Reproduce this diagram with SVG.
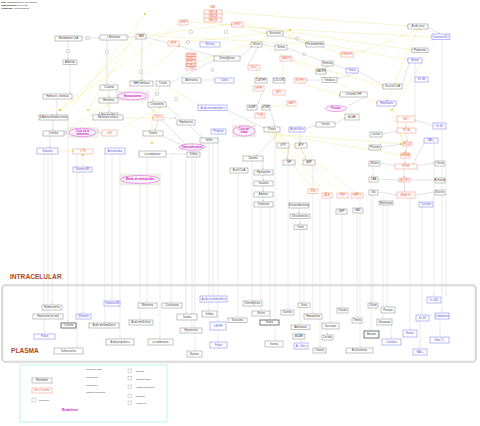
<svg xmlns="http://www.w3.org/2000/svg" width="480" height="426" viewBox="0 0 480 426">
<style>
text{font-family:"Liberation Sans",Arial,sans-serif;font-size:2.6px;text-anchor:middle;fill:#444}
.g{fill:#fff;stroke:#9a9a9a;stroke-width:.6}
.d{fill:#fff;stroke:#555;stroke-width:.8}
.r{fill:#fff;stroke:#f5a090;stroke-width:.6}
.b{fill:#fff;stroke:#9c9cf2;stroke-width:.7}
.rt{fill:#e8604c}
.bt{fill:#5454d0}
.m{fill:#fff2fc;stroke:#e060e0;stroke-width:.6}
.mt{fill:#c020c0;font-weight:bold}
.bg{fill:#efefe6;stroke:#ddd;stroke-width:.3}
.c{fill:none;stroke:#c8c8c8;stroke-width:.5;marker-end:url(#a)}
.v{fill:none;stroke:#d6d6d6;stroke-width:.5;marker-end:url(#a)}
.y{fill:none;stroke:#e8dc60;stroke-width:.5;stroke-dasharray:1.5 1;marker-end:url(#k)}
.s{fill:#fff;stroke:#999;stroke-width:.4}
.h{text-anchor:start;font-size:2.4px;fill:#222}
.big{font-size:6.6px;font-weight:bold;fill:#b04818;text-anchor:start}
.lg{text-anchor:start;font-size:2.4px}
</style>
<defs>
<marker id="a" viewBox="0 0 6 6" refX="6" refY="3" markerWidth="3" markerHeight="3" orient="auto"><path d="M0,0L6,3L0,6z" fill="#b8b8b8"/></marker>
<marker id="k" viewBox="0 0 6 6" refX="3" refY="3" markerWidth="3" markerHeight="3" orient="auto"><rect width="6" height="6" fill="#d8c400"/></marker>
</defs>
<rect width="480" height="426" fill="#fff"/>
<g id="header">
<text class="h" x="1" y="3"><tspan font-weight="bold">Title:</tspan> Metabolismo de un carbono</text>
<text class="h" x="1" y="6"><tspan font-weight="bold">Last modified:</tspan> 07/04/17</text>
<text class="h" x="1" y="9"><tspan font-weight="bold">Organism:</tspan> Homo sapiens</text>
</g>
<g id="plasma-compartment">
<rect x="2" y="285" width="474" height="77" rx="4" fill="none" stroke="#d2d2d2" stroke-width="1.6"/>
<rect x="3.5" y="286.5" width="471" height="74" rx="3" fill="none" stroke="#e6e6e6" stroke-width=".5"/>
<text class="big" x="10" y="279">INTRACELULAR</text>
<text class="big" x="11" y="353">PLASMA</text>
</g>
<g id="connectors">
<path class="v" d="M52,154V304"/><path class="v" d="M48,154V313"/><path class="v" d="M68,120V322"/><path class="v" d="M83,172V313"/>
<path class="v" d="M112,154V300"/><path class="v" d="M105,154V322"/><path class="v" d="M147,157V302"/><path class="v" d="M140,185V319"/>
<path class="v" d="M44,154V333"/><path class="v" d="M120,154V338"/><path class="v" d="M160,185V338"/><path class="v" d="M77,154V347"/>
<path class="v" d="M171,157V302"/><path class="v" d="M213,143V295"/><path class="v" d="M186,157V313"/><path class="v" d="M209,143V310"/>
<path class="v" d="M192,157V327"/><path class="v" d="M218,134V321"/><path class="v" d="M238,173V317"/><path class="v" d="M218,330V341"/>
<path class="v" d="M195,157V350"/><path class="v" d="M252,161V300"/><path class="v" d="M261,207V310"/><path class="v" d="M270,207V319"/>
<path class="v" d="M275,132V340"/><path class="v" d="M288,148V309"/><path class="v" d="M304,229V302"/><path class="v" d="M313,165V313"/>
<path class="v" d="M300,229V324"/><path class="v" d="M299,329V333"/><path class="v" d="M301,339V342"/><path class="v" d="M320,198V347"/>
<path class="v" d="M342,214V307"/><path class="v" d="M357,213V317"/><path class="v" d="M330,198V322"/><path class="v" d="M327,329V334"/>
<path class="v" d="M360,198V347"/><path class="v" d="M373,195V302"/><path class="v" d="M387,205V306"/><path class="v" d="M383,195V318"/>
<path class="v" d="M371,195V330"/><path class="v" d="M391,325V338"/><path class="v" d="M410,198V329"/><path class="v" d="M422,207V314"/>
<path class="v" d="M434,143V296"/><path class="v" d="M442,40V312"/><path class="v" d="M440,319V336"/><path class="v" d="M420,321V348"/>
<path class="v" d="M415,63V115"/><path class="v" d="M446,166V296"/><path class="v" d="M373,166V176"/>
<path class="c" d="M68,41V59.5"/><path class="c" d="M82,38H99.5"/><path class="c" d="M107,39V84.5"/><path class="c" d="M109,90V97.5"/>
<path class="c" d="M109,103V112.5"/><path class="c" d="M57,99V114.5"/><path class="c" d="M53,120V130.5"/><path class="c" d="M50,136V147.5"/>
<path class="c" d="M70,64V93.5"/><path class="c" d="M136,37H127.5"/><path class="c" d="M142,39V80.5"/><path class="c" d="M160,86L152,101.5"/>
<path class="c" d="M146,37L214,56"/><path class="c" d="M170,83L214,60"/><path class="c" d="M201,80H214.5"/><path class="c" d="M240,58L251,47"/>
<path class="c" d="M262,44L275,47"/><path class="c" d="M283,36L306,43"/><path class="c" d="M287,48L322,61"/><path class="c" d="M329,66L322,69"/>
<path class="c" d="M333,64L346,69"/><path class="c" d="M358,71L383,85"/><path class="c" d="M402,86L409,63"/><path class="c" d="M428,27L440,34"/>
<path class="c" d="M150,107L186,145"/><path class="c" d="M166,105L203,138"/><path class="c" d="M227,110L264,128"/><path class="c" d="M305,129L316,125"/>
<path class="c" d="M335,124L345,118"/><path class="c" d="M289,148L287,159.5"/><path class="c" d="M301,148L306,159.5"/><path class="c" d="M263,161V169.5"/>
<path class="c" d="M263,175V180.5"/><path class="c" d="M263,186V191.5"/><path class="c" d="M263,197V201.5"/><path class="c" d="M280,132L256,155.5"/>
<path class="c" d="M300,132V142.5"/><path class="c" d="M382,134L397,131"/><path class="c" d="M381,147L403,144"/><path class="c" d="M380,163L395,166"/>
<path class="c" d="M378,179L399,180"/><path class="c" d="M378,192L397,195"/><path class="c" d="M417,166L435,163"/><path class="c" d="M410,180L435,180"/>
<path class="c" d="M415,195L435,192"/><path class="c" d="M406,122V127.5"/><path class="c" d="M406,133L407,141.5"/><path class="c" d="M407,146L405,152.5"/>
<path class="c" d="M405,158V163.5"/><path class="c" d="M404,169V177.5"/><path class="c" d="M404,182L405,191.5"/><path class="c" d="M424,143L413,164"/>
<path class="c" d="M433,126L415,120"/><path class="c" d="M299,208V213.5"/><path class="c" d="M300,219V224.5"/><path class="c" d="M161,118H176.5"/>
<path class="c" d="M158,120L155,130.5"/><path class="c" d="M163,136L179,144"/><path class="c" d="M166,154L186,154"/><path class="c" d="M64,133H67.5"/>
<path class="c" d="M97,133H101.5"/><path class="c" d="M120,117H123"/><path class="c" d="M248,65L258,47"/><path class="c" d="M320,80L306,80"/>
<path class="c" d="M337,79L358,73"/><path class="c" d="M365,97L350,105"/><path class="c" d="M264,88L258,104.5"/><path class="c" d="M270,110L275,126.5"/>
<path class="y" d="M136,39L60,110"/><path class="y" d="M178,24L60,110"/><path class="y" d="M135,33L88,110"/><path class="y" d="M146,36L232,24"/>
<path class="y" d="M188,22L232,25"/><path class="y" d="M222,12L408,26"/><path class="y" d="M243,25L412,50"/><path class="y" d="M152,36L306,44"/>
<path class="y" d="M179,43L267,33"/><path class="y" d="M240,27L432,37"/><path class="y" d="M283,33L341,54"/><path class="y" d="M262,45L377,103"/>
<path class="y" d="M250,30L408,60"/><path class="y" d="M292,60L383,86"/><path class="y" d="M353,55L420,29"/><path class="y" d="M417,30L387,101"/>
<path class="y" d="M435,42L392,110"/><path class="y" d="M167,86L203,108"/><path class="y" d="M58,151H73"/><path class="y" d="M83,167V155"/>
<path class="y" d="M120,118H153"/><path class="y" d="M152,120V143"/><path class="y" d="M268,132L312,189"/><path class="y" d="M270,132L326,193"/>
<path class="y" d="M272,132L342,193"/><path class="y" d="M274,132L357,193"/><path class="y" d="M275,134L401,144"/><path class="y" d="M280,135L401,155"/>
<path class="y" d="M388,106L404,142"/><path class="y" d="M393,106L405,153"/><path class="y" d="M283,61V78"/><path class="y" d="M257,70V78"/>
<path class="y" d="M68,130L118,97"/><path class="y" d="M117,131L160,107"/><path class="y" d="M141,47V81"/><path class="y" d="M196,62L290,30"/>
<path class="y" d="M300,83L340,95"/><path class="y" d="M292,104L262,108"/><path class="y" d="M70,110L145,14"/><path class="y" d="M93,118L179,46"/>
</g>
<g id="anchors">
<rect class="s" x="66.8" y="49.8" width="2.6" height="2.6"/><rect class="s" x="105.8" y="50.8" width="2.6" height="2.6"/>
<rect class="s" x="86.5" y="36.8" width="2.6" height="2.6"/><rect class="s" x="186.8" y="40.8" width="2.6" height="2.6"/>
<rect class="s" x="189.8" y="30.8" width="2.6" height="2.6"/><rect class="s" x="224.8" y="30.8" width="2.6" height="2.6"/>
<rect class="s" x="139.8" y="70.8" width="2.6" height="2.6"/><rect class="s" x="155.8" y="92.8" width="2.6" height="2.6"/>
<rect class="s" x="174.8" y="97.8" width="2.6" height="2.6"/><rect class="s" x="211" y="69" width="2.6" height="2.6"/>
<rect class="s" x="303" y="53" width="2.6" height="2.6"/><rect class="s" x="96" y="129.5" width="2.6" height="2.6"/>
<rect class="s" x="64" y="131.5" width="2.6" height="2.6"/><rect class="s" x="296" y="37" width="2.6" height="2.6"/>
</g>
<g id="n1"><rect class="g" x="55" y="36" width="27" height="5"/><text x="68.5" y="39.4">Metilmalonil-CoA</text></g>
<g id="n2"><rect class="g" x="100" y="35" width="27" height="5"/><text x="113.5" y="38.4">L-Metionina</text></g>
<g id="n3"><rect class="g" x="136" y="34" width="10" height="5"/><text x="141" y="37.4">SAM</text></g>
<g id="n4"><text class="rt" x="213" y="8">MAT</text><rect class="r" x="204" y="10" width="18" height="4"/><text class="rt" x="213" y="12.9">MAT1A</text><rect class="r" x="204" y="14" width="18" height="4"/><text class="rt" x="213" y="16.9">MAT2A</text><rect class="r" x="204" y="18" width="18" height="4"/><text class="rt" x="213" y="20.9">MAT2B</text></g>
<g id="n5"><rect class="r" x="179" y="20" width="9" height="5"/><text class="rt" x="183.5" y="23.4">GNMT</text></g>
<g id="n6"><rect class="r" x="232" y="22" width="11" height="5"/><text class="rt" x="237.5" y="25.4">BHMT</text></g>
<g id="n7"><rect class="r" x="168" y="41" width="11" height="5"/><text class="rt" x="173.5" y="44.4">MTR</text></g>
<g id="n8"><rect class="b" x="200" y="42" width="20" height="5"/><text class="bt" x="210" y="45.4">Betaína</text></g>
<g id="n9"><rect class="r" x="186" y="53" width="10" height="3.4"/><text class="rt" x="191" y="55.6">MTHFR</text><rect class="r" x="186" y="56.4" width="10" height="3.4"/><text class="rt" x="191" y="59">SHMT1</text><rect class="r" x="186" y="59.8" width="10" height="3.4"/><text class="rt" x="191" y="62.4">SHMT2</text><rect class="r" x="186" y="63.2" width="10" height="3.4"/><text class="rt" x="191" y="65.8">MTHFD1</text><rect class="r" x="186" y="66.6" width="10" height="3.4"/><text class="rt" x="191" y="69.2">TYMS</text></g>
<g id="n10"><rect class="g" x="214" y="56" width="26" height="5"/><text x="227" y="59.4">Dimetilglicina</text></g>
<g id="n11"><rect class="g" x="130" y="81" width="23" height="5"/><text x="141.5" y="84.4">SAH hidrolasa</text></g>
<g id="n12"><rect class="g" x="156" y="81" width="14" height="5"/><text x="163" y="84.4">Cistina</text></g>
<g id="n13"><rect class="g" x="182" y="78" width="19" height="5"/><text x="191.5" y="81.4">Adenosina</text></g>
<g id="n14"><rect class="b" x="215" y="78" width="19" height="5"/><text class="bt" x="224.5" y="81.4">Colina</text></g>
<g id="n15"><rect class="bg" x="116" y="91.5" width="33" height="9"/><ellipse class="m" cx="132.5" cy="96" rx="15" ry="3.8"/><text class="mt" x="132.5" y="96.9">Homocisteína</text></g>
<g id="n16"><rect class="g" x="148" y="102" width="18" height="5"/><text x="157" y="105.4">Cistationina</text></g>
<g id="n17"><rect class="b" x="198" y="105" width="29" height="5.5"/><text class="bt" x="212.5" y="108.6">Ácido tetrahidrofólico</text></g>
<g id="n18"><rect class="g" x="267" y="31" width="16" height="5"/><text x="275" y="34.4">Sarcosina</text></g>
<g id="n19"><rect class="g" x="251" y="42" width="11" height="5"/><text x="256.5" y="45.4">Glicina</text></g>
<g id="n20"><rect class="g" x="275" y="45" width="12" height="5"/><text x="281" y="48.4">Serina</text></g>
<g id="n21"><rect class="g" x="306" y="42" width="18" height="5"/><text x="315" y="45.4">Formaldehído</text></g>
<g id="n22"><rect class="r" x="280" y="56" width="12" height="5"/><text class="rt" x="286" y="59.4">SARDH</text></g>
<g id="n23"><rect class="r" x="341" y="52" width="12" height="5"/><text class="rt" x="347" y="55.4">DMGDH</text></g>
<g id="n24"><rect class="g" x="322" y="61" width="11" height="5"/><text x="327.5" y="64.4">Formato</text></g>
<g id="n25"><rect class="g" x="316" y="69" width="10" height="5"/><text x="321" y="72.4">NADPH</text></g>
<g id="n26"><rect class="b" x="346" y="68" width="12" height="5"/><text class="bt" x="352" y="71.4">Folato</text></g>
<g id="n27"><rect class="r" x="248" y="65" width="12" height="5"/><text class="rt" x="254" y="68.4">GLDC</text></g>
<g id="n28"><rect class="g" x="255" y="78" width="12" height="5"/><text x="261" y="81.4">5-MTHF</text></g>
<g id="n29"><rect class="g" x="273" y="78" width="12" height="5"/><text x="279" y="81.4">5,10-CH2</text></g>
<g id="n30"><rect class="r" x="294" y="78" width="12" height="5"/><text class="rt" x="300" y="81.4">MTHFS</text></g>
<g id="n31"><rect class="g" x="322" y="77.5" width="15" height="5"/><text x="329.5" y="80.9">Timidilato</text></g>
<g id="n32"><rect class="r" x="253" y="86" width="11" height="5"/><text class="rt" x="258.5" y="89.4">DHFR</text></g>
<g id="n33"><rect class="r" x="273" y="90" width="12" height="5"/><text class="rt" x="279" y="93.4">ATIC</text></g>
<g id="n34"><rect class="r" x="287" y="101" width="9" height="5"/><text class="rt" x="291.5" y="104.4">GART</text></g>
<g id="n35"><rect class="g" x="340" y="92" width="27" height="5"/><text x="353.5" y="95.4">10-formil-THF</text></g>
<g id="n36a"><rect class="g" x="247" y="105" width="10" height="5"/><text x="252" y="108.4">dUMP</text></g>
<g id="n36b"><rect class="g" x="262" y="105" width="8" height="5"/><text x="266" y="108.4">dTMP</text></g>
<g id="n37"><ellipse class="m" cx="336" cy="108.5" rx="10.5" ry="3"/><text class="mt" x="336" y="109.4">Purinas</text></g>
<g id="n38"><rect class="g" x="408" y="24" width="20" height="5"/><text x="418" y="27.4">Ácido úrico</text></g>
<g id="n39"><rect class="b" x="432" y="34" width="18" height="5.5"/><text class="bt" x="441" y="37.6">Vitamina B12</text></g>
<g id="n40"><rect class="g" x="412" y="48" width="16" height="4.5"/><text x="420" y="51.2">Propionato</text></g>
<g id="n41"><rect class="b" x="408" y="58" width="14" height="5"/><text class="bt" x="415" y="61.4">Biotina</text></g>
<g id="n42"><rect class="b" x="415" y="77" width="13" height="5"/><text class="bt" x="421.5" y="80.4">Vit. B6</text></g>
<g id="n43"><rect class="g" x="383" y="84" width="19" height="5"/><text x="392.5" y="87.4">Succinil-CoA</text></g>
<g id="n44"><rect class="b" x="377" y="101" width="19" height="5"/><text class="bt" x="386.5" y="104.4">Riboflavina</text></g>
<g id="n45"><rect class="g" x="43" y="94" width="29" height="5"/><text x="57.5" y="97.4">Homocist. sintetasa</text></g>
<g id="n46"><rect class="g" x="63" y="60" width="14" height="4.5"/><text x="70" y="63.2">Aldehído</text></g>
<g id="n47"><rect class="g" x="100" y="85" width="18" height="5"/><text x="109" y="88.4">Cistatina</text></g>
<g id="n48"><rect class="g" x="99" y="98" width="19" height="5"/><text x="108.5" y="101.4">Metionina</text></g>
<g id="n49"><rect class="g" x="99" y="113" width="19" height="4.5"/><text x="108.5" y="116.2">Betaína-Hcy</text></g>
<g id="n50"><rect class="g" x="39" y="115" width="29" height="5"/><text x="53.5" y="118.4">S-Adenosilhomocisteína</text></g>
<g id="n51"><rect class="g" x="93" y="115" width="30" height="5"/><text x="108" y="118.4">Metionina sintasa</text></g>
<g id="n52"><rect class="g" x="43" y="131" width="21" height="5"/><text x="53.5" y="134.4">Cisteína</text></g>
<g id="n53"><rect class="bg" x="67.5" y="127.5" width="30" height="10"/><ellipse class="m" cx="82.5" cy="132.5" rx="13.5" ry="4.2"/><text class="mt" x="82.5" y="131.8">Ciclo de la</text><text class="mt" x="82.5" y="134.6">metionina</text></g>
<g id="n54"><rect class="r" x="102" y="130" width="15" height="6"/><text class="rt" x="109.5" y="133.9">CBS</text></g>
<g id="n55"><rect class="b" x="37" y="148" width="21" height="6"/><text class="bt" x="47.5" y="151.9">Glutatión</text></g>
<g id="n56"><rect class="r" x="73" y="149" width="20" height="5"/><text class="rt" x="83" y="152.4">CTH</text></g>
<g id="n57"><rect class="b" x="105" y="148" width="20" height="6"/><text class="bt" x="115" y="151.9">Aminoácidos</text></g>
<g id="n58"><rect class="b" x="73" y="167" width="19" height="5"/><text class="bt" x="82.5" y="170.4">Vitamina B6</text></g>
<g id="n59"><rect class="r" x="153" y="115" width="10" height="5"/><text class="rt" x="158" y="118.4">CDO1</text></g>
<g id="n60"><rect class="g" x="177" y="120" width="18" height="5"/><text x="186" y="123.4">Hipotaurina</text></g>
<g id="n61"><rect class="g" x="143" y="131" width="20" height="5"/><text x="153" y="134.4">Taurina</text></g>
<g id="n62"><rect class="b" x="211" y="129" width="15" height="5"/><text class="bt" x="218.5" y="132.4">Piridoxal</text></g>
<g id="n63"><rect class="bg" x="232.5" y="125" width="23" height="12"/><ellipse class="m" cx="244" cy="131" rx="11" ry="5"/><text class="mt" x="244" y="130.3">Ciclo del</text><text class="mt" x="244" y="133.1">folato</text></g>
<g id="n64"><ellipse class="m" cx="192" cy="147" rx="13" ry="3.2"/><text class="mt" x="192" y="147.9">Transsulfuración</text></g>
<g id="n65"><rect class="g" x="200" y="138" width="18" height="5"/><text x="209" y="141.4">Sulfito</text></g>
<g id="n66"><rect class="g" x="139" y="151" width="27" height="6"/><text x="152.5" y="154.9">α-cetobutirato</text></g>
<g id="n67"><rect class="g" x="187" y="152" width="13" height="5"/><text x="193.5" y="155.4">Sulfato</text></g>
<g id="n68"><rect class="bg" x="119.5" y="174" width="41" height="11"/><ellipse class="m" cx="140" cy="179.5" rx="19.5" ry="4"/><text class="mt" x="140" y="180.4">Metab. de aminoácidos</text></g>
<g id="n69"><rect class="g" x="230" y="168" width="18" height="5"/><text x="239" y="171.4">Acetil-CoA</text></g>
<g id="n70"><rect class="r" x="255" y="113" width="10" height="5"/><text class="rt" x="260" y="116.4">TYMS</text></g>
<g id="n71"><rect class="g" x="345" y="114" width="14" height="6"/><text x="352" y="117.9">AICAR</text></g>
<g id="n72"><rect class="g" x="316" y="122" width="19" height="5"/><text x="325.5" y="125.4">Inosina</text></g>
<g id="n73"><rect class="g" x="264" y="127" width="16" height="5"/><text x="272" y="130.4">Purina</text></g>
<g id="n74"><rect class="b" x="289" y="127" width="16" height="5"/><text class="bt" x="297" y="130.4">Ácido fólico</text></g>
<g id="n75a"><rect class="g" x="277" y="143" width="12" height="5"/><text x="283" y="146.4">GTP</text></g>
<g id="n75b"><rect class="g" x="295" y="143" width="12" height="5"/><text x="301" y="146.4">ATP</text></g>
<g id="n76"><rect class="g" x="243" y="156" width="20" height="5"/><text x="253" y="159.4">Xantina</text></g>
<g id="n77a"><rect class="g" x="283" y="160" width="12" height="5"/><text x="289" y="163.4">IMP</text></g>
<g id="n77b"><rect class="g" x="303" y="160" width="12" height="5"/><text x="309" y="163.4">AMP</text></g>
<g id="n78a"><rect class="g" x="254" y="170" width="19" height="5"/><text x="263.5" y="173.4">Hipoxantina</text></g>
<g id="n78b"><rect class="g" x="254" y="181" width="19" height="5"/><text x="263.5" y="184.4">Guanina</text></g>
<g id="n78c"><rect class="g" x="254" y="192" width="19" height="5"/><text x="263.5" y="195.4">Adenina</text></g>
<g id="n78d"><rect class="g" x="254" y="202" width="19" height="5"/><text x="263.5" y="205.4">Xantosina</text></g>
<g id="n79a"><rect class="r" x="308" y="189" width="10" height="4.5"/><text class="rt" x="313" y="192.2">XDH</text></g>
<g id="n79b"><rect class="r" x="322" y="193" width="10" height="5"/><text class="rt" x="327" y="196.4">ADA</text></g>
<g id="n79c"><rect class="r" x="337" y="193" width="11" height="5"/><text class="rt" x="342.5" y="196.4">PNP</text></g>
<g id="n79d"><rect class="r" x="351" y="193" width="12" height="5"/><text class="rt" x="357" y="196.4">HPRT1</text></g>
<g id="n80"><rect class="g" x="289" y="203" width="20" height="5"/><text x="299" y="206.4">Desoxiadenosina</text></g>
<g id="n81"><rect class="g" x="290" y="214" width="20" height="4.5"/><text x="300" y="217.2">Desoxiinosina</text></g>
<g id="n82"><rect class="g" x="294" y="225" width="13" height="4.5"/><text x="300.5" y="228.2">Urato</text></g>
<g id="n83"><rect class="g" x="336" y="209" width="11" height="5"/><text x="341.5" y="212.4">GMP</text></g>
<g id="n84"><rect class="g" x="353" y="208" width="10" height="5"/><text x="358" y="211.4">NAD</text></g>
<g id="n85"><rect class="r" x="397" y="116" width="18" height="6"/><text class="rt" x="406" y="119.9">MUT</text></g>
<g id="n86"><rect class="r" x="397" y="128" width="19" height="5"/><text class="rt" x="406.5" y="131.4">PCCA</text></g>
<g id="n87"><rect class="b" x="433" y="123" width="13" height="6"/><text class="bt" x="439.5" y="126.9">Vit. B2</text></g>
<g id="n88"><rect class="g" x="370" y="132" width="12" height="5"/><text x="376" y="135.4">Lactato</text></g>
<g id="n89"><rect class="b" x="424" y="138" width="14" height="5"/><text class="bt" x="431" y="141.4">NAD+</text></g>
<g id="n90"><rect class="r" x="403" y="142" width="9" height="4"/><text class="rt" x="407.5" y="144.9">PCCB</text></g>
<g id="n91"><rect class="g" x="369" y="145" width="12" height="5"/><text x="375" y="148.4">Piruvato</text></g>
<g id="n92"><rect class="r" x="401" y="153" width="9" height="5"/><text class="rt" x="405.5" y="156.4">MMAA</text></g>
<g id="n93"><rect class="g" x="369" y="161" width="11" height="5"/><text x="374.5" y="164.4">Malato</text></g>
<g id="n94"><rect class="r" x="395" y="164" width="22" height="5"/><text class="rt" x="406" y="167.4">MCEE</text></g>
<g id="n95"><rect class="g" x="435" y="161" width="10" height="5"/><text x="440" y="164.4">Citrato</text></g>
<g id="n96"><rect class="g" x="369" y="177" width="9" height="5"/><text x="373.5" y="180.4">OAA</text></g>
<g id="n97"><rect class="r" x="399" y="178" width="11" height="4"/><text class="rt" x="404.5" y="180.9">ACSF3</text></g>
<g id="n98"><rect class="g" x="435" y="178" width="10" height="5"/><text x="440" y="181.4">Fumarato</text></g>
<g id="n99"><rect class="g" x="369" y="190" width="9" height="5"/><text x="373.5" y="193.4">Glu</text></g>
<g id="n100"><rect class="g" x="435" y="190" width="10" height="5"/><text x="440" y="193.4">Succin.</text></g>
<g id="n101"><rect class="r" x="397" y="192" width="18" height="6"/><text class="rt" x="406" y="195.9">MMACHC</text></g>
<g id="n102"><rect class="g" x="379" y="201" width="14" height="4"/><text x="386" y="203.9">Metilcitrato</text></g>
<g id="n103"><rect class="b" x="419" y="202" width="14" height="5"/><text class="bt" x="426" y="205.4">Carnitina</text></g>
<g id="p1"><rect class="g" x="42" y="305" width="20" height="5"/><text x="52" y="308.4">Homocisteína</text></g>
<g id="p2"><rect class="g" x="33" y="314" width="30" height="5"/><text x="48" y="317.4">Homocisteína total</text></g>
<g id="p3"><rect class="d" x="61" y="323" width="15" height="5"/><text x="68.5" y="326.4">Cisteína</text></g>
<g id="p4"><rect class="b" x="76" y="314" width="15" height="5"/><text class="bt" x="83.5" y="317.4">Glutatión</text></g>
<g id="p5"><rect class="b" x="104" y="301" width="16" height="5"/><text class="bt" x="112" y="304.4">Vitamina B6</text></g>
<g id="p6"><rect class="g" x="89" y="323" width="30" height="5"/><text x="104" y="326.4">Ácido metilmalónico</text></g>
<g id="p7"><rect class="g" x="138" y="303" width="19" height="5"/><text x="147.5" y="306.4">Metionina</text></g>
<g id="p8"><rect class="g" x="129" y="320" width="24" height="5"/><text x="141" y="323.4">Ácido metilcítrico</text></g>
<g id="p9"><rect class="b" x="34" y="334" width="21" height="5"/><text class="bt" x="44.5" y="337.4">Folato</text></g>
<g id="p10"><rect class="g" x="106" y="339" width="28" height="6"/><text x="120" y="342.9">Ácido propiónico</text></g>
<g id="p11"><rect class="g" x="148" y="339" width="25" height="6"/><text x="160.5" y="342.9">α-cetobutirato</text></g>
<g id="p12"><rect class="g" x="54" y="348" width="29" height="6"/><text x="68.5" y="351.9">Sulfocisteína</text></g>
<g id="p13"><rect class="g" x="162" y="303" width="20" height="5"/><text x="172" y="306.4">Cistationina</text></g>
<g id="p14"><rect class="b" x="200" y="296" width="27" height="6"/><text class="bt" x="213.5" y="299.9">Ácido tetrahidrofólico</text></g>
<g id="p15"><rect class="g" x="177" y="314" width="20" height="6"/><text x="187" y="317.9">Taurina</text></g>
<g id="p16"><rect class="g" x="202" y="311" width="15" height="6"/><text x="209.5" y="314.9">Sulfato</text></g>
<g id="p17"><rect class="g" x="180" y="328" width="22" height="5"/><text x="191" y="331.4">Hipotaurina</text></g>
<g id="p18"><rect class="b" x="210" y="322" width="16" height="8"/><text class="bt" x="218" y="326.9">5-MTHF</text></g>
<g id="p19"><rect class="g" x="228" y="318" width="19" height="4.5"/><text x="237.5" y="321.2">Sarcosina</text></g>
<g id="p20"><rect class="b" x="210" y="342" width="17" height="6"/><text class="bt" x="218.5" y="345.9">Folato</text></g>
<g id="p21"><rect class="g" x="187" y="351" width="15" height="6"/><text x="194.5" y="354.9">Betaína</text></g>
<g id="p22"><rect class="g" x="243" y="301" width="19" height="5"/><text x="252.5" y="304.4">Dimetilglicina</text></g>
<g id="p23"><rect class="g" x="252" y="311" width="18" height="5"/><text x="261" y="314.4">Glicina</text></g>
<g id="p24"><rect class="d" x="260" y="320" width="19" height="5"/><text x="269.5" y="323.4">Serina</text></g>
<g id="p25"><rect class="g" x="265" y="341" width="18" height="6"/><text x="274" y="344.9">Inosina</text></g>
<g id="p26"><rect class="g" x="281" y="310" width="13" height="5"/><text x="287.5" y="313.4">Xantina</text></g>
<g id="p27"><rect class="g" x="298" y="303" width="12" height="4.5"/><text x="304" y="306.2">Urato</text></g>
<g id="p28"><rect class="g" x="304" y="314" width="18" height="5"/><text x="313" y="317.4">Hipoxantina</text></g>
<g id="p29"><rect class="g" x="291" y="325" width="19" height="4.5"/><text x="300.5" y="328.2">Adenosina</text></g>
<g id="p30"><rect class="g" x="293" y="334" width="12" height="5"/><text x="299" y="337.4">AICAR</text></g>
<g id="p31"><rect class="b" x="294" y="343" width="14" height="6"/><text class="bt" x="301" y="346.9">Ác. fólico</text></g>
<g id="p32"><rect class="g" x="313" y="348" width="13" height="5"/><text x="319.5" y="351.4">Orotato</text></g>
<g id="p33"><rect class="g" x="337" y="308" width="11" height="5"/><text x="342.5" y="311.4">Uracilo</text></g>
<g id="p34"><rect class="g" x="352" y="318" width="10" height="5"/><text x="357" y="321.4">Timina</text></g>
<g id="p35"><rect class="g" x="322" y="323" width="17" height="6"/><text x="330.5" y="326.9">Succinato</text></g>
<g id="p36"><rect class="g" x="322" y="335" width="11" height="5"/><text x="327.5" y="338.4">Lactato</text></g>
<g id="p37"><rect class="g" x="346" y="348" width="27" height="5"/><text x="359.5" y="351.4">Acilcarnitinas</text></g>
<g id="p38"><rect class="g" x="368" y="303" width="10" height="5"/><text x="373" y="306.4">Citrato</text></g>
<g id="p39"><rect class="g" x="381" y="307" width="14" height="6"/><text x="388" y="310.9">Piruvato</text></g>
<g id="p40"><rect class="g" x="377" y="319" width="15" height="6"/><text x="384.5" y="322.9">Glutamato</text></g>
<g id="p41"><rect class="d" x="364" y="331" width="15" height="7"/><text x="371.5" y="335.4">Amonio</text></g>
<g id="p42"><rect class="b" x="382" y="339" width="19" height="6"/><text class="bt" x="391.5" y="342.9">Carnitina</text></g>
<g id="p43"><rect class="b" x="403" y="330" width="14" height="7"/><text class="bt" x="410" y="334.4">Biotina</text></g>
<g id="p44"><rect class="b" x="416" y="315" width="13" height="6"/><text class="bt" x="422.5" y="318.9">Vit. B2</text></g>
<g id="p45"><rect class="b" x="427" y="297" width="14" height="6"/><text class="bt" x="434" y="300.9">Vit. B12</text></g>
<g id="p46"><rect class="b" x="435" y="313" width="14" height="6"/><text class="bt" x="442" y="316.9">Cobalamina</text></g>
<g id="p47"><rect class="b" x="430" y="337" width="19" height="6"/><text class="bt" x="439.5" y="340.9">Holo-TC</text></g>
<g id="p48"><rect class="b" x="413" y="349" width="14" height="6"/><text class="bt" x="420" y="352.9">NAD+</text></g>
<g id="legend">
<rect x="20" y="365" width="147" height="57" fill="#fff" stroke="#b0f0e6" stroke-width=".8"/>
<rect class="g" x="32" y="378" width="20" height="5"/><text x="42" y="381.4">Metabolito</text>
<rect class="r" x="32" y="388" width="20" height="5"/><text class="rt" x="42" y="391.4">Gen / enzima</text>
<rect class="s" x="32" y="398" width="4" height="4"/><text class="lg" x="39" y="401">Reacción</text>
<text class="lg" x="86" y="370">Reacción catal.</text>
<text class="lg" x="86" y="378">Conversión</text>
<text class="lg" x="86" y="385.5">Transporte</text>
<text class="lg" x="86" y="393">Relación indirecta</text>
<rect class="s" x="128" y="369" width="3.5" height="3.5"/><text class="lg" x="136" y="372">Enzima</text>
<rect class="s" x="128" y="376.5" width="3.5" height="3.5"/><text class="lg" x="136" y="379.5">Transportador</text>
<rect class="s" x="128" y="385" width="3.5" height="3.5"/><text class="lg" x="136" y="388">Vitamina cofactor</text>
<rect class="s" x="128" y="394" width="3.5" height="3.5"/><text class="lg" x="136" y="397">Cofactor</text>
<rect class="s" x="128" y="401" width="3.5" height="3.5"/><text class="lg" x="136" y="404">Hormona</text>
<text class="mt" x="70" y="411" font-size="3">Metabolismo</text>
</g>
</svg>
